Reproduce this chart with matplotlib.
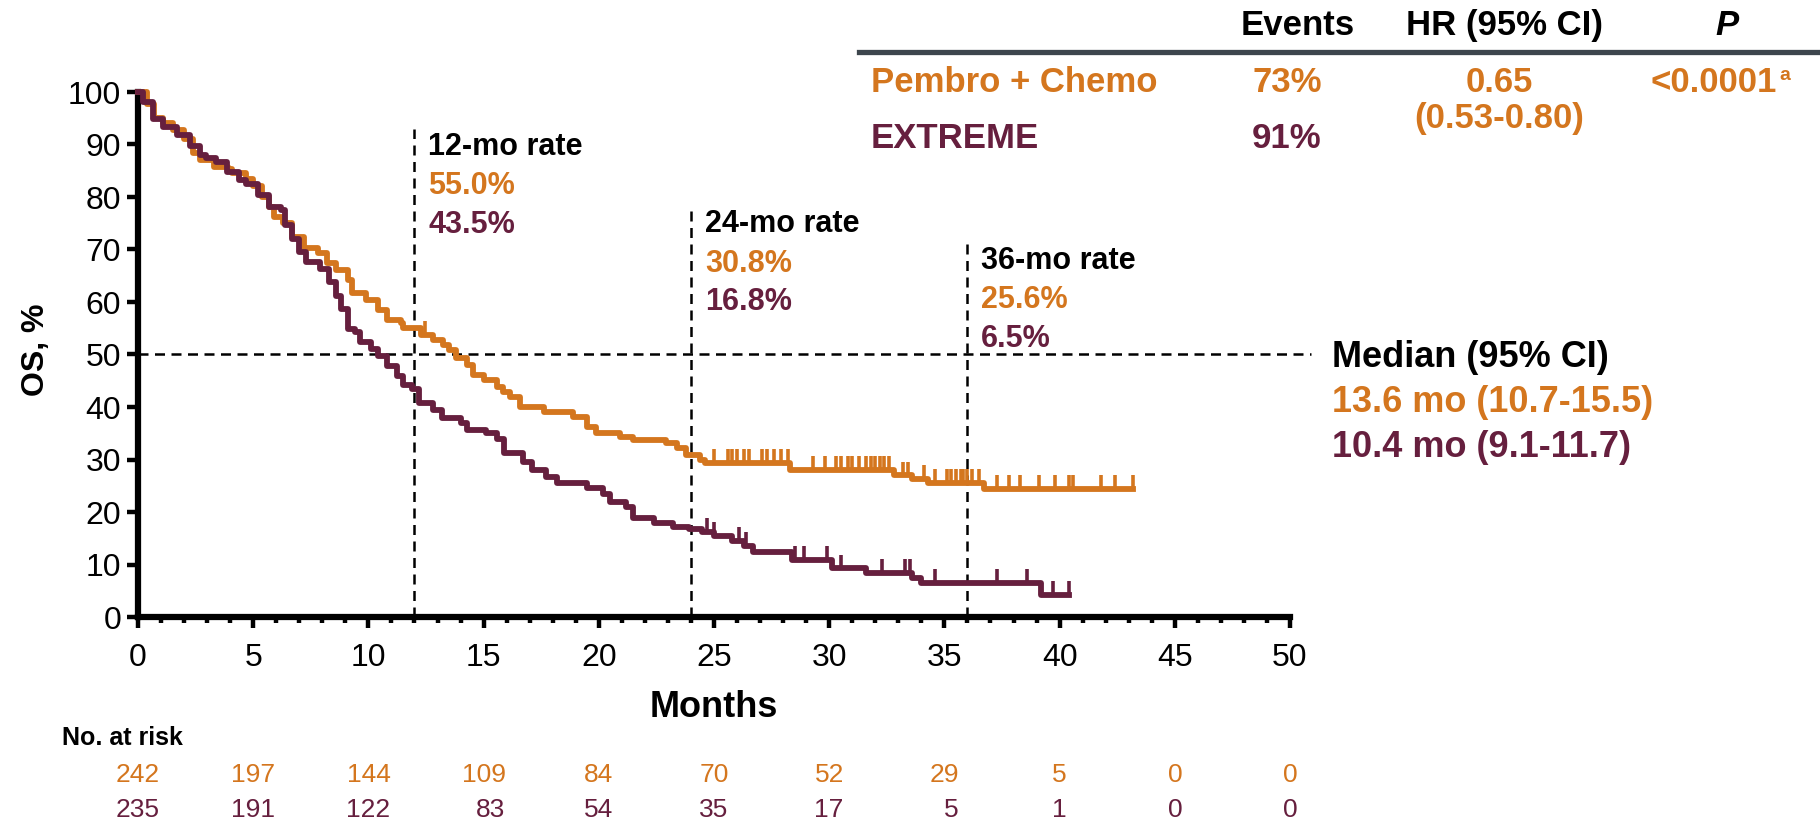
import numpy as np
import matplotlib.pyplot as plt

plt.rcParams['font.family'] = ['Liberation Sans', 'DejaVu Sans']

ORANGE = '#D4761E'
PURPLE = '#661F3E'

# Kaplan-Meier steps: month of each drop and % alive after it
pembro_t = [0, 0.4, 0.7, 1.1, 1.5, 2.0, 2.4, 2.7, 3.3, 3.9, 4.1, 4.7, 5.0, 5.4,
            5.7, 5.9, 6.3, 6.7, 7.2, 7.8, 8.2, 8.6, 9.1, 9.3, 9.9, 10.4, 10.8,
            11.4, 11.5, 12.3, 12.8, 13.25, 13.5, 13.8, 14.3, 14.55, 15.0, 15.6,
            15.85, 16.15, 16.6, 17.6, 18.9, 19.5, 19.9, 20.9, 21.5, 22.9, 23.4,
            23.8, 24.4, 24.6, 28.3, 32.8, 33.6, 34.3, 36.7]
pembro_s = [100, 97.8, 95.0, 94.0, 92.8, 91.0, 88.4, 87.0, 85.7, 85.4, 84.6,
            83.5, 82.0, 80.0, 78.0, 76.2, 75.0, 72.4, 70.3, 69.3, 67.4, 66.1,
            64.2, 61.7, 60.4, 58.5, 56.6, 56.0, 55.0, 53.7, 52.8, 51.8, 50.9,
            49.3, 48.0, 46.1, 45.1, 43.8, 42.9, 41.9, 40.0, 39.0, 38.1, 36.2,
            35.1, 34.3, 33.7, 33.1, 32.2, 30.8, 29.9, 29.4, 28.0, 27.0, 26.3,
            25.6, 24.4]
pembro_cens = [12.45, 25.0, 25.6, 25.8, 26.0, 26.3, 26.5, 27.1, 27.3, 27.6,
               27.9, 28.2, 29.3, 29.8, 30.3, 30.5, 30.8, 31.0, 31.3, 31.6, 31.8,
               32.0, 32.2, 32.4, 32.6, 33.2, 33.4, 34.1, 34.6, 35.1, 35.3, 35.5,
               35.7, 35.8, 36.0, 36.2, 36.5, 37.3, 37.8, 38.3, 39.1, 39.8, 40.4,
               40.6, 41.8, 42.4, 43.2]
pembro_end = 43.2

extreme_t = [0, 0.2, 0.67, 1.1, 1.68, 2.25, 2.7, 2.96, 3.4, 3.85, 4.4, 4.7,
             5.2, 5.7, 6.2, 6.4, 6.7, 7.0, 7.3, 7.9, 8.3, 8.6, 8.8, 9.1, 9.4,
             9.65, 10.1, 10.4, 10.8, 11.25, 11.5, 11.9, 12.2, 12.8, 13.2, 14.0,
             14.3, 15.1, 15.6, 15.9, 16.7, 17.1, 17.7, 18.2, 19.5, 20.2, 20.5,
             21.2, 21.5, 22.4, 23.2, 23.9, 24.5, 25.0, 25.8, 26.3, 26.7, 28.4,
             30.1, 31.6, 33.6, 34.0, 39.2]
extreme_s = [100, 98.1, 94.9, 93.3, 91.8, 89.8, 88.0, 87.5, 86.7, 84.8, 83.2,
             82.5, 80.3, 78.1, 77.5, 74.6, 72.0, 69.5, 67.6, 66.3, 63.8, 61.2,
             58.7, 54.9, 54.3, 52.4, 51.1, 49.8, 47.9, 46.0, 44.1, 43.5, 40.8,
             39.5, 38.0, 37.0, 35.6, 35.0, 34.0, 31.2, 29.5, 28.0, 26.7, 25.5,
             24.5, 23.5, 22.0, 21.0, 18.8, 18.0, 17.2, 16.8, 16.2, 15.5, 14.5,
             13.5, 12.3, 10.9, 9.3, 8.4, 7.4, 6.5, 4.2]
extreme_cens = [24.7, 25.0, 26.1, 26.4, 28.5, 28.9, 29.9, 30.5, 32.3, 33.3,
                33.5, 34.6, 37.3, 38.6, 39.7, 40.4]
extreme_end = 40.4

risk_months = [0, 5, 10, 15, 20, 25, 30, 35, 40, 45, 50]
risk_pembro = [242, 197, 144, 109, 84, 70, 52, 29, 5, 0, 0]
risk_extreme = [235, 191, 122, 83, 54, 35, 17, 5, 1, 0, 0]

rate_months = [12, 24, 36]
rate_pembro = [55.0, 30.8, 25.6]
rate_extreme = [43.5, 16.8, 6.5]

W, H = 1820, 822
fig = plt.figure(figsize=(W / 100, H / 100), dpi=100)


def fx(px):
    return px / W


def fy(py):
    return 1 - py / H


ax = fig.add_axes([fx(138), fy(617), fx(1290 - 138), (617 - 92) / H])


def surv_at(t, s, x):
    idx = np.searchsorted(t, x, side='right') - 1
    return np.asarray(s)[idx]


for t, s, cens, end, col in [(pembro_t, pembro_s, pembro_cens, pembro_end, ORANGE),
                             (extreme_t, extreme_s, extreme_cens, extreme_end, PURPLE)]:
    ax.step(t + [end], s + [s[-1]], where='post', color=col, lw=4.2,
            clip_on=False, zorder=3)
    cy = surv_at(t, s, cens)
    ax.vlines(cens, cy, cy + 2.6, color=col, lw=2.6, zorder=3)

# landmark lines and median line
dash = (0, (4, 2.6))
for m, top in zip(rate_months, [93, 78, 72]):
    ax.plot([m, m], [0, top], color='black', lw=1.8, ls=dash, zorder=2)
ax.plot([0, 50.9], [50, 50], color='black', lw=1.8, ls=dash, zorder=2,
        clip_on=False)

# landmark rate labels
for m, top, p, e in zip(rate_months, [88.0, 73.3, 66.3], rate_pembro, rate_extreme):
    x = m + 0.6
    ax.text(x, top, f'{m}-mo rate', fontsize=22, fontweight='bold', va='baseline')
    ax.text(x, top - 7.5, f'{p:.1f}%', fontsize=22, fontweight='bold',
            color=ORANGE, va='baseline')
    ax.text(x, top - 14.8, f'{e:.1f}%', fontsize=22, fontweight='bold',
            color=PURPLE, va='baseline')

ax.set_xlim(0, 50)
ax.set_ylim(0, 100)
ax.set_xticks(range(0, 51, 5))
ax.set_xticks(range(0, 51, 1), minor=True)
ax.set_yticks(range(0, 101, 10))
for side in ['top', 'right']:
    ax.spines[side].set_visible(False)
for side in ['left', 'bottom']:
    ax.spines[side].set_linewidth(4.5)
ax.tick_params(which='major', length=8, width=3.2, labelsize=23)
ax.tick_params(axis='x', which='major', pad=11)
ax.tick_params(axis='y', which='major', pad=4)
ax.tick_params(which='minor', length=4, width=3.2)

fig.text(fx(714), fy(717), 'Months', fontsize=26, fontweight='bold',
         ha='center', va='baseline')
fig.text(fx(36), fy(350), 'OS, %', fontsize=23, fontweight='bold',
         rotation=90, ha='center', va='center')

# number at risk
fig.text(fx(62), fy(745), 'No. at risk', fontsize=18, fontweight='bold',
         va='baseline')
rfs = 19
for m, p, e in zip(risk_months, risk_pembro, risk_extreme):
    dx = len(str(p)) * 0.556 * rfs / 2
    for val, col, py in [(p, ORANGE, 782), (e, PURPLE, 817)]:
        ax.annotate(str(val), xy=(m, fy(py)), xycoords=('data', 'figure fraction'),
                    xytext=(dx, 0), textcoords='offset points', ha='right',
                    va='baseline', fontsize=rfs, color=col, annotation_clip=False)

# summary table
tfs = 25
fig.text(fx(1298), fy(35), 'Events', fontsize=tfs, fontweight='bold',
         ha='center', va='baseline')
fig.text(fx(1504), fy(35), 'HR (95% CI)', fontsize=tfs, fontweight='bold',
         ha='center', va='baseline')
fig.text(fx(1727), fy(35), 'P', fontsize=tfs, fontweight='bold', style='italic',
         ha='center', va='baseline')
fig.add_artist(plt.Line2D([fx(859), 1], [fy(52), fy(52)], color='#3D464D', lw=3.8))

fig.text(fx(871), fy(92), 'Pembro + Chemo', fontsize=tfs, fontweight='bold',
         color=ORANGE, va='baseline')
fig.text(fx(1287), fy(92), '73%', fontsize=tfs, fontweight='bold',
         color=ORANGE, ha='center', va='baseline')
fig.text(fx(1499), fy(92), '0.65', fontsize=tfs, fontweight='bold',
         color=ORANGE, ha='center', va='baseline')
fig.text(fx(1499), fy(128), '(0.53-0.80)', fontsize=tfs, fontweight='bold',
         color=ORANGE, ha='center', va='baseline')
fig.text(fx(1777), fy(92), '<0.0001', fontsize=tfs, fontweight='bold',
         color=ORANGE, ha='right', va='baseline')
fig.text(fx(1779), fy(80), 'a', fontsize=14, fontweight='bold',
         color=ORANGE, ha='left', va='baseline')
fig.text(fx(871), fy(148), 'EXTREME', fontsize=tfs, fontweight='bold',
         color=PURPLE, va='baseline')
fig.text(fx(1287), fy(148), '91%', fontsize=tfs, fontweight='bold',
         color=PURPLE, ha='center', va='baseline')

# medians
fig.text(fx(1332), fy(367), 'Median (95% CI)', fontsize=26, fontweight='bold',
         va='baseline')
fig.text(fx(1332), fy(412), '13.6 mo (10.7-15.5)', fontsize=26, fontweight='bold',
         color=ORANGE, va='baseline')
fig.text(fx(1332), fy(457), '10.4 mo (9.1-11.7)', fontsize=26, fontweight='bold',
         color=PURPLE, va='baseline')

fig.savefig('out.png', dpi=100, facecolor='white')
